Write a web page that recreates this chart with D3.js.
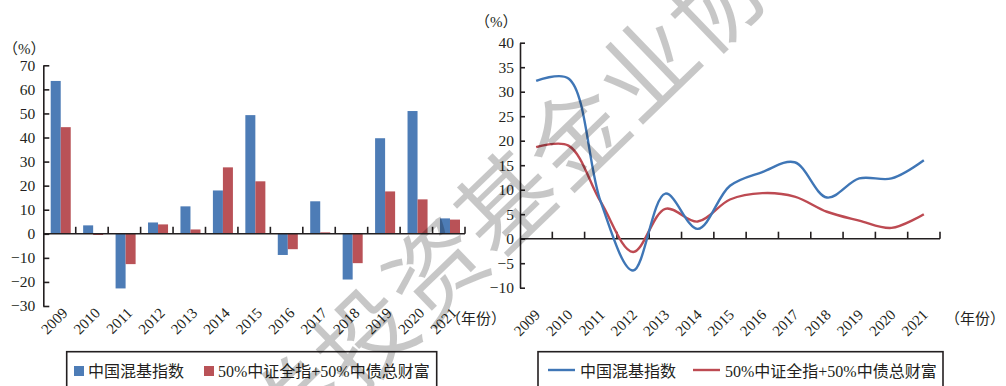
<!DOCTYPE html>
<html>
<head>
<meta charset="utf-8">
<script src="https://cdn.jsdelivr.net/npm/d3@7"></script>
<style>
  html, body { margin: 0; padding: 0; background: #fff; }
  svg { display: block; }
  text { font-family: "Liberation Serif", "Noto Sans CJK SC", serif; fill: #231f20; }
</style>
</head>
<body>
<svg id="chart" width="1006" height="386"></svg>
<script>
// ---------- data ----------
const years = ["2009","2010","2011","2012","2013","2014","2015","2016","2017","2018","2019","2020","2021"];
const seriesNames = ["中国混基指数", "50%中证全指+50%中债总财富"];
// left chart: annual returns (%)
const mixedAnnual     = [63.5, 3.5, -22.7, 4.7, 11.4, 18.0, 49.3, -8.8, 13.5, -19.0, 39.7, 51.0, 6.4];
const benchmarkAnnual = [44.3, -0.5, -12.6, 3.9, 1.8, 27.6, 21.8, -6.4, 0.6, -12.2, 17.6, 14.3, 5.9];
// right chart (%)
const mixedLine     = [32.2, 32.7, 7.5, -6.5, 9.2, 2.0, 10.8, 13.6, 15.6, 8.4, 12.3, 12.3, 16.0];
const benchmarkLine = [18.7, 19.0, 7.5, -2.7, 6.1, 3.5, 8.0, 9.3, 8.6, 5.5, 3.7, 2.2, 5.0];
const leftTicks  = [-30, -20, -10, 0, 10, 20, 30, 40, 50, 60, 70];
const rightTicks = [-10, -5, 0, 5, 10, 15, 20, 25, 30, 35, 40];
const unitLabel = "（%）";
const yearLabel = "（年份）";
const watermark = "中国证券投资基金业协会";

// ---------- styles ----------
const BLUE = "#4d7cb6", RED = "#b95257";
const LBLUE = "#3f76b6", LRED = "#bd4a52";
const AXIS = "#231f20";

const svg = d3.select("#chart");

// ================= LEFT: bar chart =================
const L = { x0: 43.3, x1: 465, yTop: 65.3, yBot: 306 };
const xL = d3.scaleBand().domain(years).range([L.x0, L.x1]);
const xLsub = d3.scaleBand().domain([0, 1]).range([0, xL.bandwidth()]).paddingOuter(0.62).paddingInner(0);
const yL = d3.scaleLinear().domain([-30, 70]).range([L.yBot, L.yTop]);

const gL = svg.append("g");
const barData = years.map((y, i) => [mixedAnnual[i], benchmarkAnnual[i]]);
const groups = gL.selectAll("g.grp").data(barData).join("g")
  .attr("transform", (d, i) => `translate(${xL(years[i]) + 1.2},0)`);
groups.selectAll("rect").data(d => d.map((v, k) => ({ v, k }))).join("rect")
  .attr("x", d => xLsub(d.k))
  .attr("width", xLsub.bandwidth())
  .attr("y", d => yL(Math.max(0, d.v)))
  .attr("height", d => Math.abs(yL(d.v) - yL(0)))
  .attr("fill", d => d.k === 0 ? BLUE : RED);

// y axis
const axL = gL.append("g").attr("transform", `translate(${L.x0},0)`)
  .call(d3.axisLeft(yL).tickValues(leftTicks).tickSizeInner(-6).tickSizeOuter(0).tickPadding(8));
axL.select(".domain").attr("stroke", AXIS).attr("stroke-width", 1.6);
axL.selectAll(".tick line").attr("stroke", AXIS).attr("stroke-width", 1.6);
axL.selectAll(".tick text").attr("font-size", 15.5).attr("font-family", "Liberation Serif").attr("fill", AXIS);

// x axis at zero
gL.append("line").attr("x1", L.x0).attr("x2", L.x1).attr("y1", yL(0)).attr("y2", yL(0))
  .attr("stroke", AXIS).attr("stroke-width", 1.6);
gL.selectAll("line.xt").data(years).join("line")
  .attr("x1", d => xL(d) + xL.bandwidth()).attr("x2", d => xL(d) + xL.bandwidth())
  .attr("y1", yL(0)).attr("y2", yL(0) - 7).attr("stroke", AXIS).attr("stroke-width", 1.6);
gL.selectAll("text.xl").data(years).join("text")
  .attr("text-anchor", "end").attr("font-size", 15)
  .attr("transform", d => `translate(${xL(d) + xL.bandwidth() / 2 + 9},${L.yBot + 8}) rotate(-45)`)
  .text(d => d);

gL.append("text").attr("x", 3).attr("y", 54).attr("font-size", 15).text(unitLabel);
gL.append("text").attr("x", 446).attr("y", 324).attr("font-size", 15).text(yearLabel);

// legend left
const lgL = svg.append("g");
lgL.append("rect").attr("x", 66.7).attr("y", 351.7).attr("width", 370).attr("height", 60)
  .attr("fill", "none").attr("stroke", AXIS).attr("stroke-width", 1.6);
[[74, 88], [204, 218]].forEach(([sx, tx], k) => {
  lgL.append("rect").attr("x", sx).attr("y", 366).attr("width", 10).attr("height", 10)
    .attr("fill", k === 0 ? BLUE : RED);
  lgL.append("text").attr("x", tx).attr("y", 377).attr("font-size", 16).text(seriesNames[k]);
});

// ================= RIGHT: line chart =================
const R = { x0: 520, x1: 940, yTop: 42.7, yBot: 287.7 };
const xR = d3.scaleBand().domain(years).range([R.x0, R.x1]);
const yR = d3.scaleLinear().domain([-10, 40]).range([R.yBot, R.yTop]);
const gR = svg.append("g");

const axR = gR.append("g").attr("transform", `translate(${R.x0},0)`)
  .call(d3.axisLeft(yR).tickValues(rightTicks).tickSizeInner(-5).tickSizeOuter(0).tickPadding(6));
axR.select(".domain").attr("stroke", AXIS).attr("stroke-width", 1.6);
axR.selectAll(".tick line").attr("stroke", AXIS).attr("stroke-width", 1.6);
axR.selectAll(".tick text").attr("font-size", 15.5).attr("font-family", "Liberation Serif").attr("fill", AXIS);

gR.append("line").attr("x1", R.x0).attr("x2", R.x1).attr("y1", yR(0)).attr("y2", yR(0))
  .attr("stroke", AXIS).attr("stroke-width", 1.6);
gR.selectAll("line.xt").data(years).join("line")
  .attr("x1", d => xR(d) + xR.bandwidth()).attr("x2", d => xR(d) + xR.bandwidth())
  .attr("y1", yR(0)).attr("y2", yR(0) - 7).attr("stroke", AXIS).attr("stroke-width", 1.6);
gR.selectAll("text.xl").data(years).join("text")
  .attr("text-anchor", "end").attr("font-size", 15)
  .attr("transform", d => `translate(${xR(d) + xR.bandwidth() / 2 + 5},${R.yBot + 28}) rotate(-45)`)
  .text(d => d);

const line = d3.line()
  .x((d, i) => xR(years[i]) + xR.bandwidth() / 2)
  .y(d => yR(d))
  .curve(d3.curveCatmullRom.alpha(0.5));
gR.append("path").datum(benchmarkLine).attr("d", line).attr("fill", "none")
  .attr("stroke", LRED).attr("stroke-width", 2.4);
gR.append("path").datum(mixedLine).attr("d", line).attr("fill", "none")
  .attr("stroke", LBLUE).attr("stroke-width", 2.4);

gR.append("text").attr("x", 475).attr("y", 27).attr("font-size", 15).text(unitLabel);
gR.append("text").attr("x", 945).attr("y", 324).attr("font-size", 15).text(yearLabel);

const lgR = svg.append("g");
lgR.append("rect").attr("x", 538).attr("y", 351.7).attr("width", 405).attr("height", 60)
  .attr("fill", "none").attr("stroke", AXIS).attr("stroke-width", 1.6);
[[548, 580], [693, 725]].forEach(([sx, tx], k) => {
  lgR.append("line").attr("x1", sx).attr("x2", sx + 27).attr("y1", 370).attr("y2", 370)
    .attr("stroke", k === 0 ? LBLUE : LRED).attr("stroke-width", 2.4);
  lgR.append("text").attr("x", tx).attr("y", 377).attr("font-size", 16).text(seriesNames[k]);
});

// ================= watermark =================
const wm = svg.append("g").attr("pointer-events", "none");
const ref = { x: 508, y: 205 }, step = { x: 70.5, y: -67.5 }, refIdx = 6;
wm.selectAll("text").data(Array.from(watermark)).join("text")
  .attr("transform", (c, i) => `translate(${ref.x + (i - refIdx) * step.x},${ref.y + (i - refIdx) * step.y}) rotate(-44)`)
  .attr("text-anchor", "middle").attr("dominant-baseline", "central")
  .attr("font-family", "Noto Sans CJK SC").attr("font-size", 96)
  .style("fill", "#000").attr("fill-opacity", 0.22)
  .text(c => c);
</script>
</body>
</html>
